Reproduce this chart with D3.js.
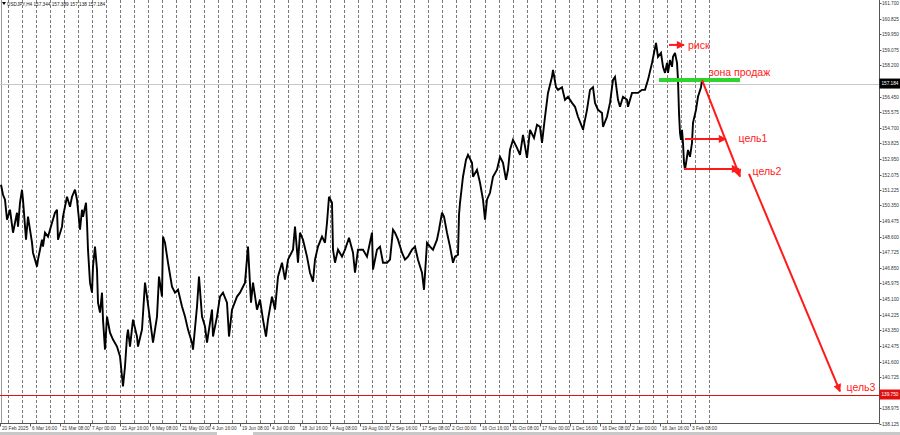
<!DOCTYPE html>
<html><head><meta charset="utf-8">
<script src="https://cdn.jsdelivr.net/npm/d3@7"></script>
<style>body{margin:0;background:#fff;} svg{display:block;font-family:"Liberation Sans",Arial,sans-serif}</style>
</head><body>
<svg id="c" width="900" height="435"></svg>
<script>
// ---------- data ----------
const symbol = "USDJPY,H4";
const ohlc = ["157.344", "157.389", "157.138", "157.184"];
const lastPrice = 157.184;
const levelPrice = 139.75;
const priceTicks = ["161.700","160.825","159.950","159.075","158.200","157.325","156.450","155.575","154.700","153.825","152.950","152.075","151.225","150.350","149.475","148.600","147.725","146.850","145.975","145.100","144.225","143.350","142.475","141.600","140.725","139.850","138.975","138.125"];
const timeLabels = ["20 Feb 2025","6 Mar 16:00","21 Mar 08:00","7 Apr 00:00","21 Apr 16:00","6 May 08:00","21 May 00:00","4 Jun 16:00","19 Jun 08:00","4 Jul 00:00","18 Jul 16:00","4 Aug 08:00","19 Aug 00:00","2 Sep 16:00","17 Sep 08:00","2 Oct 00:00","16 Oct 16:00","31 Oct 08:00","17 Nov 00:00","1 Dec 16:00","16 Dec 08:00","2 Jan 00:00","16 Jan 16:00","3 Feb 08:00"];
const barsPerLabel = 60;
const barsPerWeek = 28.06;
const firstWeekBar = 15;
const weekCount = 51;

// bar index and price of the traced path
const bars = [2,6,10,14,20,26,34,36,40,44,46,52,56,64,66,74,76,84,86,90,96,104,110,114,116,124,126,134,140,144,150,154,160,164,166,172,174,176,180,184,186,190,194,196,200,204,206,210,214,220,226,234,240,244,246,250,254,256,260,266,274,276,284,290,294,300,306,314,318,324,326,330,336,344,350,356,364,370,376,384,386,394,398,404,410,414,424,426,434,440,446,454,458,464,474,480,490,496,502,506,514,520,526,532,536,544,550,556,564,570,576,586,590,596,600,606,614,620,626,630,636,644,650,654,658,664,666,670,676,684,690,698,706,710,716,726,734,744,746,754,760,766,774,780,786,790,796,804,810,816,824,830,836,844,848,854,860,866,874,878,884,888,894,900,906,910,916,918,920,926,932,936,944,946,954,960,966,970,974,980,986,994,1000,1006,1012,1016,1020,1026,1034,1040,1046,1054,1060,1068,1074,1080,1084,1090,1096,1104,1106,1112,1116,1124,1130,1136,1144,1150,1156,1164,1166,1174,1180,1186,1190,1196,1204,1206,1214,1220,1226,1230,1236,1240,1246,1254,1256,1264,1270,1276,1284,1290,1296,1304,1312,1316,1322,1326,1330,1334,1336,1340,1344,1346,1350,1354,1356,1358,1360,1362,1364,1366,1368,1370,1374,1376,1380,1384,1386,1392,1396,1402,1404,1406];
const prices = [151.51,150.95,150.67,149.55,150.11,148.82,149.94,149.16,150.50,151.23,150.67,148.43,149.72,148.26,147.70,146.92,147.31,148.43,148.04,148.82,148.60,149.38,149.94,150.11,148.43,149.16,149.72,150.84,150.28,150.84,151.23,150.67,148.99,150.11,149.72,150.50,149.38,147.87,146.02,145.46,146.92,148.04,146.75,144.90,144.34,145.46,143.95,142.27,144.12,143.22,142.83,142.44,141.88,140.76,140.20,141.32,143.00,143.39,142.44,143.95,143.00,142.44,143.39,146.02,145.24,143.95,142.66,144.12,146.36,145.24,148.60,148.26,147.14,145.80,145.46,145.63,144.68,144.12,143.39,142.66,142.27,144.68,146.36,144.12,143.56,142.66,144.51,143.00,144.12,145.24,145.46,144.90,143.00,144.51,145.24,145.46,146.02,148.04,144.90,146.02,144.51,145.07,143.95,143.00,143.95,145.24,144.51,146.36,147.14,146.19,147.31,147.87,149.16,147.14,148.82,148.43,147.48,146.58,146.08,147.31,148.04,148.60,148.26,149.38,150.84,150.50,147.87,147.14,147.87,147.48,147.87,148.54,147.70,146.58,147.87,147.87,147.48,148.82,146.75,147.87,148.04,147.14,147.14,147.31,148.99,148.82,148.43,147.70,147.31,147.48,147.87,148.04,147.31,146.58,145.62,148.26,148.04,147.87,148.43,148.99,149.94,149.72,148.82,148.04,147.14,147.48,147.59,149.83,150.50,151.96,152.91,153.19,152.74,151.96,152.35,151.62,150.67,149.55,150.67,151.06,151.96,152.35,153.08,152.74,151.79,152.35,153.47,154.03,153.58,153.19,154.31,153.02,154.59,154.14,154.87,154.76,153.86,155.32,156.66,157.56,157.95,156.98,156.83,156.98,156.27,156.44,156.10,155.88,155.32,154.76,154.59,155.71,156.83,156.98,156.10,155.71,155.54,154.76,155.32,156.10,157.39,157.56,156.27,155.88,156.44,156.27,155.88,156.66,156.66,156.66,156.83,156.83,157.39,158.34,159.46,158.68,158.90,158.12,157.78,158.34,157.78,158.51,158.12,158.68,158.90,158.34,157.39,155.54,154.42,154.03,154.59,153.86,152.74,152.35,153.08,153.46,153.08,153.86,154.98,155.71,156.44,156.98,157.39,157.184];

// annotations in bar / price units
const sellZone = {from: 1318, to: 1480, price: 157.39};
const riskArrow = {from: 1338, to: 1368, price: 159.35};
const target1Arrow = {from: 1370, to: 1452, price: 154.08};
const target2Arrow = {from: 1368, to: 1478, price: 152.40};
const pathDown1 = {b0: 1404, p0: 157.39, b1: 1480, p1: 151.96};
const pathDown2 = {b0: 1498, p0: 152.12, b1: 1680, p1: 139.92};
const labels = [
  {text: "риск", bar: 1376, price: 159.10},
  {text: "зона продаж", bar: 1418, price: 157.62},
  {text: "цель1", bar: 1477, price: 153.90},
  {text: "цель2", bar: 1505, price: 152.03},
  {text: "цель3", bar: 1693, price: 139.97}
];

// ---------- drawing ----------
const W = 900, H = 435, axisX = 879.5, axisY = 423.5;
const FS = 4.7;
const svg = d3.select("#c");
const x = d3.scaleLinear().domain([0, 1420]).range([0, 710]);
const y = d3.scaleLinear().domain([138.125, 161.7]).range([423.5, 3]);

svg.append("rect").attr("width", W).attr("height", H).attr("fill", "#fff");

// weekly separators
const weeks = d3.range(weekCount).map(k => firstWeekBar + k * barsPerWeek);
svg.append("g").selectAll("line").data(weeks).join("line")
  .attr("x1", d => Math.round(x(d)) + 0.5).attr("x2", d => Math.round(x(d)) + 0.5)
  .attr("y1", 0).attr("y2", axisY)
  .attr("stroke", "#7a7a7a").attr("stroke-width", 1).attr("stroke-dasharray", "3,2");

// left border
svg.append("line").attr("x1", 1.5).attr("x2", 1.5).attr("y1", 0).attr("y2", axisY)
  .attr("stroke", "#9a9a9a");

// current price line
svg.append("line").attr("x1", 0).attr("x2", axisX)
  .attr("y1", Math.round(y(lastPrice)) + 0.5).attr("y2", Math.round(y(lastPrice)) + 0.5)
  .attr("stroke", "#c8c8c8");

// red level
svg.append("line").attr("x1", 0).attr("x2", axisX)
  .attr("y1", Math.round(y(levelPrice)) + 0.5).attr("y2", Math.round(y(levelPrice)) + 0.5)
  .attr("stroke", "#e01010").attr("stroke-width", 1);

// price path
const series = bars.map((b, i) => [b, prices[i]]);
svg.append("path").datum(series)
  .attr("fill", "none").attr("stroke", "#000").attr("stroke-width", 1.9)
  .attr("stroke-linejoin", "miter").attr("stroke-miterlimit", 3)
  .attr("d", d3.line().x(d => x(d[0])).y(d => y(d[1])));

// annotations
const red = "#ff1a1a";
const defs = svg.append("defs");
defs.append("marker").attr("id", "ah").attr("viewBox", "0 0 10 10")
  .attr("refX", 9).attr("refY", 5).attr("markerWidth", 4.5).attr("markerHeight", 4)
  .attr("markerUnits", "strokeWidth").attr("orient", "auto")
  .append("path").attr("d", "M0,0 L10,5 L0,10 Z").attr("fill", red);

svg.append("line")
  .attr("x1", x(sellZone.from)).attr("x2", x(sellZone.to))
  .attr("y1", y(sellZone.price)).attr("y2", y(sellZone.price))
  .attr("stroke", "#2ed42e").attr("stroke-width", 4);

[riskArrow, target1Arrow, target2Arrow].forEach(a => {
  svg.append("line")
    .attr("x1", x(a.from)).attr("x2", x(a.to))
    .attr("y1", y(a.price)).attr("y2", y(a.price))
    .attr("stroke", red).attr("stroke-width", 2).attr("marker-end", "url(#ah)");
});
[pathDown1, pathDown2].forEach(p => {
  svg.append("line")
    .attr("x1", x(p.b0)).attr("y1", y(p.p0))
    .attr("x2", x(p.b1)).attr("y2", y(p.p1))
    .attr("stroke", red).attr("stroke-width", 2).attr("marker-end", "url(#ah)");
});
svg.append("g").selectAll("text").data(labels).join("text")
  .attr("x", d => x(d.bar)).attr("y", d => y(d.price))
  .attr("fill", red).attr("font-size", 10.5)
  .text(d => d.text);

// right axis
svg.append("line").attr("x1", axisX).attr("x2", axisX).attr("y1", 0).attr("y2", axisY)
  .attr("stroke", "#555");
const tags = [lastPrice, levelPrice];
const pt = svg.append("g");
priceTicks.forEach(t => {
  const v = +t, yy = Math.round(y(v)) + 0.5;
  pt.append("line").attr("x1", axisX).attr("x2", axisX + 2).attr("y1", yy).attr("y2", yy).attr("stroke", "#555");
  if (tags.some(g => Math.abs(y(g) - yy) < 7)) return; // covered by a price tag
  pt.append("text").attr("x", 882).attr("y", yy).attr("dy", "0.35em")
    .attr("font-size", FS).attr("fill", "#333").text(t);
});
// price labels on axis
function axisTag(v, bg) {
  const yy = y(v);
  svg.append("rect").attr("x", axisX).attr("y", yy - 5).attr("width", 20.5).attr("height", 10).attr("fill", bg);
  svg.append("text").attr("x", 881.5).attr("y", yy).attr("dy", "0.35em")
    .attr("font-size", FS).attr("fill", "#fff").text(v.toFixed(3));
}
axisTag(lastPrice, "#000");
axisTag(levelPrice, "#e01010");

// bottom axis
svg.append("line").attr("x1", 0).attr("x2", axisX).attr("y1", axisY).attr("y2", axisY).attr("stroke", "#555");
const tg = svg.append("g");
timeLabels.forEach((t, i) => {
  const xx = Math.round(x(i * barsPerLabel)) + 0.5;
  tg.append("line").attr("x1", xx).attr("x2", xx).attr("y1", axisY).attr("y2", axisY + 3).attr("stroke", "#555");
  tg.append("text").attr("x", xx + 1.5).attr("y", 429.5).attr("font-size", FS).attr("fill", "#333").text(t);
});

// tab strip
svg.append("rect").attr("x", 0).attr("y", 432).attr("width", W).attr("height", 3).attr("fill", "#c8c8c8");
svg.append("rect").attr("x", 217).attr("y", 432).attr("width", 36).attr("height", 3).attr("fill", "#fff");

// header
svg.append("path").attr("d", "M2,2 L6,2 L4,5 Z").attr("fill", "#000");
svg.append("text").attr("x", 7).attr("y", 5.5).attr("font-size", FS).attr("fill", "#222")
  .text(symbol + "  " + ohlc.join(" "));
</script>
</body></html>
